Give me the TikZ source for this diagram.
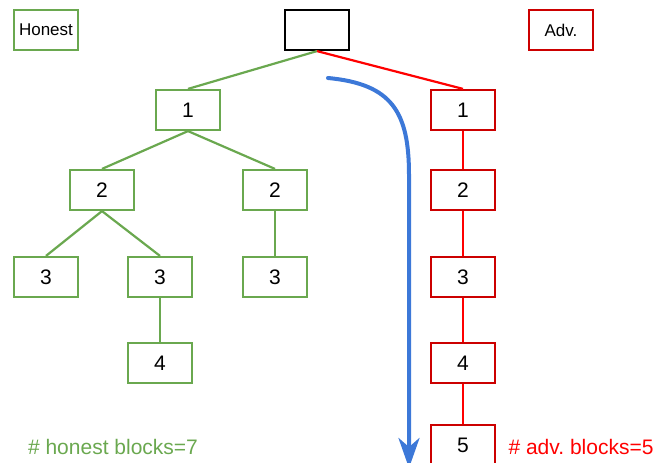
\documentclass[tikz,border=0pt]{standalone}
\usepackage{fontspec}
\setmainfont{Liberation Sans}
\usetikzlibrary{arrows.meta}

\definecolor{hgreen}{HTML}{6AA84F}
\definecolor{ared}{HTML}{CC0000}
\definecolor{aline}{HTML}{FF0000}
\definecolor{chainblue}{HTML}{3C78D8}

\tikzset{
	block/.style={draw, line width=2.2pt, minimum width=64pt, minimum height=40pt, inner sep=0pt, font=\fontsize{21}{25}\selectfont},
	hblock/.style={block, draw=hgreen},
	ablock/.style={block, draw=ared},
	hedge/.style={hgreen, line width=2.2pt},
	aedge/.style={aline, line width=2.2pt}
}

\begin{document}
\begin{tikzpicture}[x=1pt,y=-1pt]
				\useasboundingbox (0,0) rectangle (656,463);
				% legend and genesis
				\node[hblock, font=\fontsize{17}{20}\selectfont] (honest) at (46,30) {Honest};
				\node[ablock, font=\fontsize{17}{20}\selectfont] (adv) at (561,30) {Adv.};
				\node[block, draw=black] (root) at (317,30) {};
				% honest tree
				\node[hblock] (h1) at (188,110) {1};
				\node[hblock] (h2a) at (102,190) {2};
				\node[hblock] (h2b) at (275,190) {2};
				\node[hblock] (h3a) at (46,277) {3};
				\node[hblock] (h3b) at (160,277) {3};
				\node[hblock] (h3c) at (275,277) {3};
				\node[hblock] (h4) at (160,363) {4};
				\draw[hedge] (root.south) -- (h1.north);
				\draw[hedge] (h1.south) -- (h2a.north);
				\draw[hedge] (h1.south) -- (h2b.north);
				\draw[hedge] (h2a.south) -- (h3a.north);
				\draw[hedge] (h2a.south) -- (h3b.north);
				\draw[hedge] (h2b.south) -- (h3c.north);
				\draw[hedge] (h3b.south) -- (h4.north);
				% adversary chain
				\foreach \y [count = \yi] in {110,190,277,363,445}
				{
					\node[ablock] (a\yi) at (463,\y) {\yi};
				}
				\draw[aedge] (root.south) -- (a1.north);
				\foreach \yi [count = \yj from 2] in {1,...,4}
				{
					\draw[aedge] (a\yi.south) -- (a\yj.north);
				}
				% counts
				\node[hgreen, font=\fontsize{21}{25}\selectfont] (hcount) at (113,447) {\# honest blocks=7};
				\node[aline, font=\fontsize{21}{25}\selectfont, anchor=west] (acount) at (505,447) {\# adv.\ blocks=5};
				% release arrow
				\coordinate (rstart) at (328,78);
				\coordinate (rend) at (409,468);
				\draw[chainblue, line width=4pt, line cap=round, -{Stealth[length=30pt,width=21pt,inset=9pt]}] (rstart) .. controls (392,84) and (409,112) .. (409,175) -- (rend);
			\end{tikzpicture}
\end{document}
